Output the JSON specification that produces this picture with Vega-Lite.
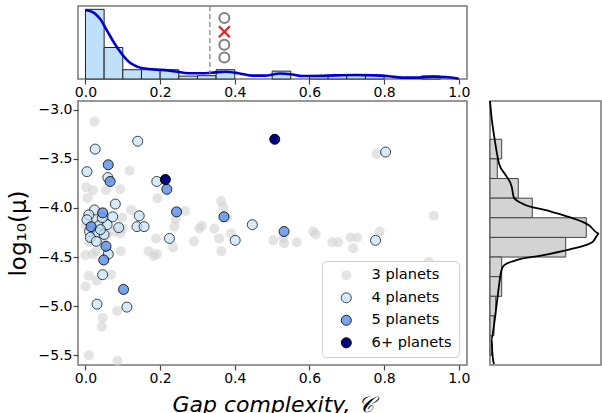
{
  "$schema": "https://vega.github.io/schema/vega-lite/v6.json",
  "padding": {"left": 6, "top": 3, "right": 0, "bottom": 0},
  "bounds": "flush",
  "columns": 2,
  "spacing": {"row": 22, "column": 23},
  "resolve": {"legend": {"fill": "independent", "stroke": "independent", "opacity": "independent"}},
  "config": {
    "font": "DejaVu Sans",
    "view": {"stroke": "#777777", "strokeWidth": 1.5},
    "axis": {"grid": false, "domain": false, "labelFont": "DejaVu Sans", "labelFontSize": 14, "labelColor": "black", "tickColor": "#444", "tickSize": 5, "tickWidth": 1.2, "labelPadding": 1, "titleFont": "DejaVu Sans", "titleFontWeight": "normal", "titleColor": "black"}
  },
  "datasets": {
    "hist_top": [
      {"b0": 0.00, "b1": 0.05, "v": 23.0},
      {"b0": 0.05, "b1": 0.10, "v": 10.4},
      {"b0": 0.10, "b1": 0.15, "v": 3.06},
      {"b0": 0.15, "b1": 0.20, "v": 3.06},
      {"b0": 0.20, "b1": 0.25, "v": 3.06},
      {"b0": 0.25, "b1": 0.30, "v": 0.95},
      {"b0": 0.30, "b1": 0.35, "v": 1.1},
      {"b0": 0.35, "b1": 0.40, "v": 3.06},
      {"b0": 0.50, "b1": 0.55, "v": 2.6},
      {"b0": 0.60, "b1": 0.65, "v": 1.2},
      {"b0": 0.65, "b1": 0.70, "v": 1.2},
      {"b0": 0.70, "b1": 0.75, "v": 1.2},
      {"b0": 0.75, "b1": 0.80, "v": 1.2},
      {"b0": 0.90, "b1": 0.95, "v": 1.0}
    ],
    "kde_top": [
      {"c": 0.0, "k": 22.8}, {"c": 0.022, "k": 21.9}, {"c": 0.040, "k": 19.7}, {"c": 0.058, "k": 15.9},
      {"c": 0.076, "k": 12.1}, {"c": 0.094, "k": 8.8}, {"c": 0.116, "k": 5.7}, {"c": 0.138, "k": 4.1},
      {"c": 0.169, "k": 3.3}, {"c": 0.205, "k": 3.0}, {"c": 0.241, "k": 2.5}, {"c": 0.276, "k": 1.9},
      {"c": 0.312, "k": 1.9}, {"c": 0.348, "k": 2.2}, {"c": 0.374, "k": 2.4}, {"c": 0.410, "k": 1.9},
      {"c": 0.446, "k": 1.1}, {"c": 0.481, "k": 1.1}, {"c": 0.503, "k": 1.5}, {"c": 0.519, "k": 1.8},
      {"c": 0.554, "k": 1.5}, {"c": 0.581, "k": 1.0}, {"c": 0.617, "k": 1.0}, {"c": 0.670, "k": 1.2},
      {"c": 0.724, "k": 1.3}, {"c": 0.777, "k": 1.2}, {"c": 0.813, "k": 0.9}, {"c": 0.848, "k": 0.45},
      {"c": 0.884, "k": 0.45}, {"c": 0.929, "k": 0.8}, {"c": 0.964, "k": 0.65}, {"c": 1.0, "k": 0.1}
    ],
    "markers": [
      {"c": 0.372, "v": 20.1, "kind": "circle"},
      {"c": 0.372, "v": 15.6, "kind": "x"},
      {"c": 0.372, "v": 11.3, "kind": "circle"},
      {"c": 0.372, "v": 7.1, "kind": "circle"}
    ],
    "systems": [
      {"c": 0.024, "mu": -3.12, "n": "3 planets"}, {"c": 0.118, "mu": -3.62, "n": "3 planets"},
      {"c": 0.002, "mu": -3.79, "n": "3 planets"}, {"c": 0.020, "mu": -3.82, "n": "3 planets"},
      {"c": 0.055, "mu": -3.82, "n": "3 planets"}, {"c": 0.093, "mu": -3.81, "n": "3 planets"},
      {"c": 0.006, "mu": -3.90, "n": "3 planets"}, {"c": 0.193, "mu": -3.90, "n": "3 planets"},
      {"c": 0.122, "mu": -4.02, "n": "3 planets"}, {"c": 0.098, "mu": -4.10, "n": "3 planets"},
      {"c": 0.078, "mu": -4.24, "n": "3 planets"}, {"c": 0.094, "mu": -4.26, "n": "3 planets"},
      {"c": 0.189, "mu": -4.31, "n": "3 planets"}, {"c": 0.169, "mu": -4.44, "n": "3 planets"},
      {"c": 0.183, "mu": -4.49, "n": "3 planets"}, {"c": 0.191, "mu": -4.47, "n": "3 planets"},
      {"c": 0.094, "mu": -4.44, "n": "3 planets"}, {"c": 0.000, "mu": -4.48, "n": "3 planets"},
      {"c": 0.020, "mu": -4.47, "n": "3 planets"}, {"c": 0.009, "mu": -4.69, "n": "3 planets"},
      {"c": 0.030, "mu": -4.74, "n": "3 planets"}, {"c": 0.069, "mu": -4.68, "n": "3 planets"},
      {"c": 0.000, "mu": -4.80, "n": "3 planets"}, {"c": 0.085, "mu": -5.05, "n": "3 planets"},
      {"c": 0.046, "mu": -5.12, "n": "3 planets"}, {"c": 0.044, "mu": -5.21, "n": "3 planets"},
      {"c": 0.009, "mu": -5.50, "n": "3 planets"}, {"c": 0.086, "mu": -5.56, "n": "3 planets"},
      {"c": 0.238, "mu": -4.19, "n": "3 planets"}, {"c": 0.267, "mu": -4.03, "n": "3 planets"},
      {"c": 0.242, "mu": -4.11, "n": "3 planets"}, {"c": 0.235, "mu": -4.40, "n": "3 planets"},
      {"c": 0.291, "mu": -4.34, "n": "3 planets"}, {"c": 0.305, "mu": -4.21, "n": "3 planets"},
      {"c": 0.312, "mu": -4.18, "n": "3 planets"}, {"c": 0.345, "mu": -4.21, "n": "3 planets"},
      {"c": 0.358, "mu": -4.31, "n": "3 planets"}, {"c": 0.363, "mu": -3.93, "n": "3 planets"},
      {"c": 0.369, "mu": -3.99, "n": "3 planets"}, {"c": 0.380, "mu": -4.10, "n": "3 planets"},
      {"c": 0.364, "mu": -4.44, "n": "3 planets"}, {"c": 0.390, "mu": -4.26, "n": "3 planets"},
      {"c": 0.503, "mu": -4.33, "n": "3 planets"}, {"c": 0.532, "mu": -4.36, "n": "3 planets"},
      {"c": 0.530, "mu": -4.31, "n": "3 planets"}, {"c": 0.566, "mu": -4.35, "n": "3 planets"},
      {"c": 0.610, "mu": -4.24, "n": "3 planets"}, {"c": 0.617, "mu": -4.27, "n": "3 planets"},
      {"c": 0.661, "mu": -4.35, "n": "3 planets"}, {"c": 0.677, "mu": -4.35, "n": "3 planets"},
      {"c": 0.710, "mu": -4.30, "n": "3 planets"}, {"c": 0.728, "mu": -4.30, "n": "3 planets"},
      {"c": 0.717, "mu": -4.41, "n": "3 planets"}, {"c": 0.788, "mu": -4.24, "n": "3 planets"},
      {"c": 0.780, "mu": -3.45, "n": "3 planets"}, {"c": 0.933, "mu": -4.08, "n": "3 planets"},
      {"c": 0.920, "mu": -4.55, "n": "3 planets"}, {"c": 0.002, "mu": -4.18, "n": "3 planets"},
      {"c": 0.057, "mu": -4.28, "n": "3 planets"}, {"c": 0.100, "mu": -4.21, "n": "3 planets"},
      {"c": 0.030, "mu": -4.12, "n": "3 planets"}, {"c": 0.045, "mu": -4.35, "n": "3 planets"},
      {"c": 0.010, "mu": -4.35, "n": "3 planets"}, {"c": 0.029, "mu": -4.44, "n": "3 planets"},
      {"c": 0.060, "mu": -4.45, "n": "3 planets"},
      {"c": 0.140, "mu": -3.32, "n": "4 planets"}, {"c": 0.026, "mu": -3.40, "n": "4 planets"},
      {"c": 0.004, "mu": -3.63, "n": "4 planets"}, {"c": 0.060, "mu": -3.69, "n": "4 planets"},
      {"c": 0.191, "mu": -3.73, "n": "4 planets"}, {"c": 0.080, "mu": -3.96, "n": "4 planets"},
      {"c": 0.024, "mu": -4.02, "n": "4 planets"}, {"c": 0.009, "mu": -4.07, "n": "4 planets"},
      {"c": 0.004, "mu": -4.12, "n": "4 planets"}, {"c": 0.073, "mu": -4.09, "n": "4 planets"},
      {"c": 0.144, "mu": -4.08, "n": "4 planets"}, {"c": 0.036, "mu": -4.18, "n": "4 planets"},
      {"c": 0.058, "mu": -4.17, "n": "4 planets"}, {"c": 0.089, "mu": -4.20, "n": "4 planets"},
      {"c": 0.138, "mu": -4.19, "n": "4 planets"}, {"c": 0.157, "mu": -4.19, "n": "4 planets"},
      {"c": 0.011, "mu": -4.24, "n": "4 planets"}, {"c": 0.033, "mu": -4.25, "n": "4 planets"},
      {"c": 0.013, "mu": -4.30, "n": "4 planets"}, {"c": 0.029, "mu": -4.34, "n": "4 planets"},
      {"c": 0.045, "mu": -4.10, "n": "4 planets"}, {"c": 0.050, "mu": -4.27, "n": "4 planets"},
      {"c": 0.040, "mu": -4.22, "n": "4 planets"}, {"c": 0.225, "mu": -4.31, "n": "4 planets"},
      {"c": 0.061, "mu": -4.47, "n": "4 planets"}, {"c": 0.046, "mu": -4.68, "n": "4 planets"},
      {"c": 0.031, "mu": -4.98, "n": "4 planets"}, {"c": 0.111, "mu": -5.01, "n": "4 planets"},
      {"c": 0.401, "mu": -4.33, "n": "4 planets"}, {"c": 0.447, "mu": -4.17, "n": "4 planets"},
      {"c": 0.804, "mu": -3.43, "n": "4 planets"}, {"c": 0.777, "mu": -4.33, "n": "4 planets"},
      {"c": 0.061, "mu": -3.56, "n": "5 planets"}, {"c": 0.066, "mu": -3.73, "n": "5 planets"},
      {"c": 0.218, "mu": -3.81, "n": "5 planets"}, {"c": 0.244, "mu": -4.04, "n": "5 planets"},
      {"c": 0.371, "mu": -4.09, "n": "5 planets"}, {"c": 0.046, "mu": -4.05, "n": "5 planets"},
      {"c": 0.015, "mu": -4.19, "n": "5 planets"}, {"c": 0.055, "mu": -4.39, "n": "5 planets"},
      {"c": 0.049, "mu": -4.53, "n": "5 planets"}, {"c": 0.102, "mu": -4.83, "n": "5 planets"},
      {"c": 0.532, "mu": -4.24, "n": "5 planets"},
      {"c": 0.214, "mu": -3.71, "n": "6+ planets"}, {"c": 0.507, "mu": -3.30, "n": "6+ planets"}
    ],
    "hist_right": [
      {"y0": -3.5, "y1": -3.3, "d": 0.197},
      {"y0": -3.7, "y1": -3.5, "d": 0.123},
      {"y0": -3.9, "y1": -3.7, "d": 0.477},
      {"y0": -4.1, "y1": -3.9, "d": 0.713},
      {"y0": -4.3, "y1": -4.1, "d": 1.624},
      {"y0": -4.5, "y1": -4.3, "d": 1.277},
      {"y0": -4.7, "y1": -4.5, "d": 0.197},
      {"y0": -4.9, "y1": -4.7, "d": 0.197},
      {"y0": -5.1, "y1": -4.9, "d": 0.096},
      {"y0": -5.3, "y1": -5.1, "d": 0.067},
      {"y0": -5.5, "y1": -5.3, "d": 0.03}
    ],
    "kde_right": [
      {"mu": -2.91, "d": 0.0}, {"mu": -3.086, "d": 0.028}, {"mu": -3.256, "d": 0.067}, {"mu": -3.409, "d": 0.107},
      {"mu": -3.546, "d": 0.152}, {"mu": -3.665, "d": 0.264}, {"mu": -3.784, "d": 0.366}, {"mu": -3.897, "d": 0.405},
      {"mu": -3.955, "d": 0.545}, {"mu": -4.023, "d": 0.94}, {"mu": -4.091, "d": 1.33}, {"mu": -4.176, "d": 1.67},
      {"mu": -4.262, "d": 1.84}, {"mu": -4.347, "d": 1.73}, {"mu": -4.415, "d": 1.39}, {"mu": -4.483, "d": 0.88},
      {"mu": -4.534, "d": 0.433}, {"mu": -4.585, "d": 0.236}, {"mu": -4.671, "d": 0.18}, {"mu": -4.789, "d": 0.152},
      {"mu": -4.926, "d": 0.124}, {"mu": -5.062, "d": 0.096}, {"mu": -5.198, "d": 0.067}, {"mu": -5.335, "d": 0.028},
      {"mu": -5.471, "d": 0.039}, {"mu": -5.59, "d": 0.067}
    ]
  },
  "concat": [
    {
      "width": 389,
      "height": 73,
      "layer": [
        {
          "data": {"name": "hist_top"},
          "mark": {"type": "rect", "fill": "#bfe0f8", "stroke": "#222", "strokeWidth": 1},
          "encoding": {
            "x": {"field": "b0", "type": "quantitative", "scale": {"domain": [-0.02, 1.022], "nice": false, "zero": false},
                  "axis": {"values": [0, 0.2, 0.4, 0.6, 0.8, 1.0], "format": ".1f", "title": null}},
            "x2": {"field": "b1"},
            "y": {"field": "v", "type": "quantitative", "scale": {"domain": [0, 24.1], "nice": false}, "axis": null},
            "y2": {"datum": 0}
          }
        },
        {
          "data": {"name": "kde_top"},
          "mark": {"type": "line", "color": "#0000cd", "strokeWidth": 2.6, "interpolate": "monotone"},
          "encoding": {
            "x": {"field": "c", "type": "quantitative"},
            "y": {"field": "k", "type": "quantitative"}
          }
        },
        {
          "data": {"values": [{"c": 0.3333}]},
          "mark": {"type": "rule", "color": "#808080", "strokeWidth": 1.2, "strokeDash": [5, 3]},
          "encoding": {"x": {"field": "c", "type": "quantitative"}}
        },
        {
          "data": {"name": "markers"},
          "transform": [{"filter": "datum.kind === 'circle'"}],
          "mark": {"type": "point", "shape": "circle", "filled": false, "stroke": "#808080", "strokeWidth": 2, "size": 100, "opacity": 1},
          "encoding": {
            "x": {"field": "c", "type": "quantitative"},
            "y": {"field": "v", "type": "quantitative"}
          }
        },
        {
          "data": {"name": "markers"},
          "transform": [{"filter": "datum.kind === 'x'"}],
          "mark": {"type": "point", "shape": "M-1,-1L1,1M1,-1L-1,1", "filled": false, "stroke": "#d62728", "strokeWidth": 2.2, "size": 120, "opacity": 1},
          "encoding": {
            "x": {"field": "c", "type": "quantitative"},
            "y": {"field": "v", "type": "quantitative"}
          }
        }
      ]
    },
    {
      "width": 111,
      "height": 73,
      "view": {"stroke": null},
      "data": {"values": []},
      "mark": {"type": "point", "opacity": 0},
      "encoding": {}
    },
    {
      "width": 389,
      "height": 264,
      "data": {"name": "systems"},
      "mark": {"type": "point", "filled": true, "size": 100, "strokeWidth": 1},
      "encoding": {
        "x": {"field": "c", "type": "quantitative", "scale": {"domain": [-0.02, 1.022], "nice": false, "zero": false},
              "axis": {"values": [0, 0.2, 0.4, 0.6, 0.8, 1.0], "format": ".1f", "title": "Gap complexity, 𝒞", "titleFontSize": 22, "titleFontStyle": "italic", "titlePadding": 9}},
        "y": {"field": "mu", "type": "quantitative", "scale": {"domain": [-5.6, -2.91], "nice": false, "zero": false},
              "axis": {"values": [-5.5, -5, -4.5, -4, -3.5, -3], "format": ".1f", "title": "log₁₀(μ)", "titleFontSize": 23, "titlePadding": 8}},
        "fill": {"field": "n", "type": "ordinal",
                 "scale": {"domain": ["3 planets", "4 planets", "5 planets", "6+ planets"], "range": ["#d3d3d3", "#c4e4fb", "#6495ed", "#000080"]},
                 "legend": {"title": null, "orient": "bottom-right", "offset": 8, "fillColor": "white", "strokeColor": "#d0d0d0", "cornerRadius": 4, "padding": 7, "symbolOffset": 10, "labelOffset": 18, "labelFontSize": 14.6, "labelFont": "DejaVu Sans", "labelColor": "black", "symbolSize": 100, "symbolStrokeWidth": 1, "rowPadding": 6.5, "symbolType": "circle"}},
        "stroke": {"field": "n", "type": "ordinal",
                   "scale": {"domain": ["3 planets", "4 planets", "5 planets", "6+ planets"], "range": ["rgba(0,0,0,0)", "#000000", "#000000", "#000000"]}},
        "opacity": {"field": "n", "type": "ordinal",
                    "scale": {"domain": ["3 planets", "4 planets", "5 planets", "6+ planets"], "range": [0.6, 1, 1, 1]}}
      }
    },
    {
      "width": 111,
      "height": 264,
      "layer": [
        {
          "data": {"name": "hist_right"},
          "mark": {"type": "rect", "fill": "#d3d3d3", "stroke": "#444", "strokeWidth": 1},
          "encoding": {
            "y": {"field": "y0", "type": "quantitative", "scale": {"domain": [-5.6, -2.91], "nice": false, "zero": false}, "axis": null},
            "y2": {"field": "y1"},
            "x": {"field": "d", "type": "quantitative", "scale": {"domain": [0, 1.872], "nice": false}, "axis": null},
            "x2": {"datum": 0}
          }
        },
        {
          "data": {"name": "kde_right"},
          "mark": {"type": "line", "color": "black", "strokeWidth": 1.8, "interpolate": "monotone"},
          "encoding": {
            "y": {"field": "mu", "type": "quantitative"},
            "x": {"field": "d", "type": "quantitative"},
            "order": {"field": "mu", "type": "quantitative"}
          }
        }
      ]
    }
  ]
}
